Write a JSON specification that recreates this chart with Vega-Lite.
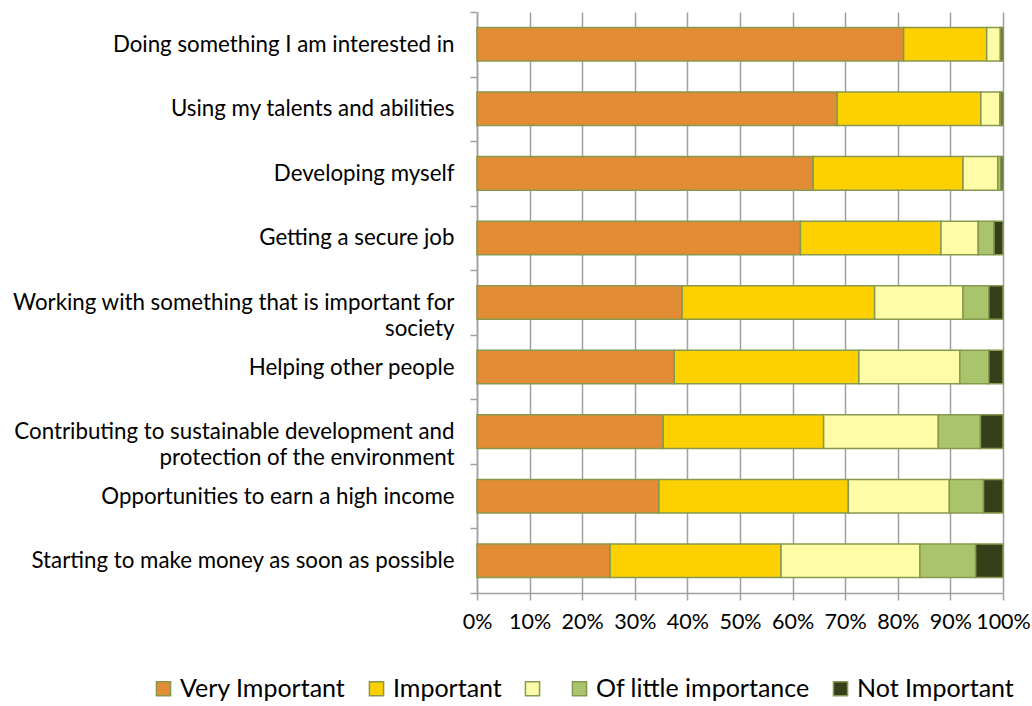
{
  "$schema": "https://vega.github.io/schema/vega-lite/v6.json",
  "width": 526,
  "height": 581,
  "autosize": {"type": "none"},
  "padding": {"left": 477, "top": 12, "right": 29, "bottom": 113},
  "background": "white",
  "config": {
    "view": {"stroke": null},
    "font": "Lato"
  },
  "data": {
    "values": [
      {"item": "Doing something I am interested in", "level": "Very Important", "rank": 1, "value": 81.1},
      {"item": "Doing something I am interested in", "level": "Important", "rank": 2, "value": 15.8},
      {"item": "Doing something I am interested in", "level": "\u00a0\u00a0\u00a0", "rank": 3, "value": 2.6},
      {"item": "Doing something I am interested in", "level": "Of little importance", "rank": 4, "value": 0.1},
      {"item": "Doing something I am interested in", "level": "Not Important", "rank": 5, "value": 0.4},
      {"item": "Using my talents and abilities", "level": "Very Important", "rank": 1, "value": 68.5},
      {"item": "Using my talents and abilities", "level": "Important", "rank": 2, "value": 27.3},
      {"item": "Using my talents and abilities", "level": "\u00a0\u00a0\u00a0", "rank": 3, "value": 3.6},
      {"item": "Using my talents and abilities", "level": "Of little importance", "rank": 4, "value": 0.2},
      {"item": "Using my talents and abilities", "level": "Not Important", "rank": 5, "value": 0.4},
      {"item": "Developing myself", "level": "Very Important", "rank": 1, "value": 63.9},
      {"item": "Developing myself", "level": "Important", "rank": 2, "value": 28.5},
      {"item": "Developing myself", "level": "\u00a0\u00a0\u00a0", "rank": 3, "value": 6.6},
      {"item": "Developing myself", "level": "Of little importance", "rank": 4, "value": 0.6},
      {"item": "Developing myself", "level": "Not Important", "rank": 5, "value": 0.4},
      {"item": "Getting a secure job", "level": "Very Important", "rank": 1, "value": 61.5},
      {"item": "Getting a secure job", "level": "Important", "rank": 2, "value": 26.7},
      {"item": "Getting a secure job", "level": "\u00a0\u00a0\u00a0", "rank": 3, "value": 7.1},
      {"item": "Getting a secure job", "level": "Of little importance", "rank": 4, "value": 3.0},
      {"item": "Getting a secure job", "level": "Not Important", "rank": 5, "value": 1.7},
      {"item": "Working with something that is important for society", "level": "Very Important", "rank": 1, "value": 39.0},
      {"item": "Working with something that is important for society", "level": "Important", "rank": 2, "value": 36.6},
      {"item": "Working with something that is important for society", "level": "\u00a0\u00a0\u00a0", "rank": 3, "value": 16.8},
      {"item": "Working with something that is important for society", "level": "Of little importance", "rank": 4, "value": 4.9},
      {"item": "Working with something that is important for society", "level": "Not Important", "rank": 5, "value": 2.7},
      {"item": "Helping other people", "level": "Very Important", "rank": 1, "value": 37.5},
      {"item": "Helping other people", "level": "Important", "rank": 2, "value": 35.1},
      {"item": "Helping other people", "level": "\u00a0\u00a0\u00a0", "rank": 3, "value": 19.2},
      {"item": "Helping other people", "level": "Of little importance", "rank": 4, "value": 5.5},
      {"item": "Helping other people", "level": "Not Important", "rank": 5, "value": 2.7},
      {"item": "Contributing to sustainable development and protection of the environment", "level": "Very Important", "rank": 1, "value": 35.4},
      {"item": "Contributing to sustainable development and protection of the environment", "level": "Important", "rank": 2, "value": 30.5},
      {"item": "Contributing to sustainable development and protection of the environment", "level": "\u00a0\u00a0\u00a0", "rank": 3, "value": 21.8},
      {"item": "Contributing to sustainable development and protection of the environment", "level": "Of little importance", "rank": 4, "value": 8.0},
      {"item": "Contributing to sustainable development and protection of the environment", "level": "Not Important", "rank": 5, "value": 4.3},
      {"item": "Opportunities to earn a high income", "level": "Very Important", "rank": 1, "value": 34.6},
      {"item": "Opportunities to earn a high income", "level": "Important", "rank": 2, "value": 36.0},
      {"item": "Opportunities to earn a high income", "level": "\u00a0\u00a0\u00a0", "rank": 3, "value": 19.2},
      {"item": "Opportunities to earn a high income", "level": "Of little importance", "rank": 4, "value": 6.5},
      {"item": "Opportunities to earn a high income", "level": "Not Important", "rank": 5, "value": 3.7},
      {"item": "Starting to make money as soon as possible", "level": "Very Important", "rank": 1, "value": 25.3},
      {"item": "Starting to make money as soon as possible", "level": "Important", "rank": 2, "value": 32.5},
      {"item": "Starting to make money as soon as possible", "level": "\u00a0\u00a0\u00a0", "rank": 3, "value": 26.4},
      {"item": "Starting to make money as soon as possible", "level": "Of little importance", "rank": 4, "value": 10.6},
      {"item": "Starting to make money as soon as possible", "level": "Not Important", "rank": 5, "value": 5.2}
    ]
  },
  "mark": {"type": "bar", "stroke": "#86994E", "strokeWidth": 1.5, "height": {"band": 0.52}},
  "encoding": {
    "y": {
      "field": "item",
      "type": "nominal",
      "sort": null,
      "scale": {"paddingInner": 0, "paddingOuter": 0},
      "axis": {
        "title": null,
        "domainColor": "#A0A0A0",
        "domainWidth": 1.5,
        "tickColor": "#A0A0A0",
        "tickWidth": 1.5,
        "tickSize": 7,
        "tickBand": "extent",
        "labelFontSize": 22.3,
        "labelColor": "#000000",
        "labelPadding": 16,
        "labelLimit": 500,
        "labelLineHeight": 26,
        "labelExpr": "datum.label == 'Working with something that is important for society' ? ['Working with something that is important for', 'society'] : datum.label == 'Contributing to sustainable development and protection of the environment' ? ['Contributing to sustainable development and', 'protection of the environment'] : datum.label"
      }
    },
    "x": {
      "field": "value",
      "type": "quantitative",
      "stack": "zero",
      "scale": {"domain": [0, 100], "nice": false},
      "axis": {
        "title": null,
        "values": [0, 10, 20, 30, 40, 50, 60, 70, 80, 90, 100],
        "labelExpr": "datum.value + '%'",
        "grid": true,
        "gridColor": "#A0A0A0",
        "gridWidth": 1.5,
        "domainColor": "#A0A0A0",
        "domainWidth": 1.5,
        "tickColor": "#A0A0A0",
        "tickWidth": 1.5,
        "tickSize": 7,
        "labelFontSize": 21.5,
        "labelColor": "#000000",
        "labelPadding": 11,
        "labelFlush": false
      }
    },
    "order": {"field": "rank", "type": "quantitative", "sort": "ascending"},
    "color": {
      "field": "level",
      "type": "nominal",
      "sort": ["Very Important", "Important", "\u00a0\u00a0\u00a0", "Of little importance", "Not Important"],
      "scale": {
        "domain": ["Very Important", "Important", "\u00a0\u00a0\u00a0", "Of little importance", "Not Important"],
        "range": ["#E28C35", "#FDD100", "#FFFCA8", "#A9C46B", "#353F1A"]
      },
      "legend": {
        "title": null,
        "orient": "none",
        "direction": "horizontal",
        "legendX": -326,
        "legendY": 664,
        "symbolType": "square",
        "symbolSize": 200,
        "symbolStrokeColor": "#86994E",
        "symbolStrokeWidth": 1.5,
        "symbolOpacity": 1,
        "labelFontSize": 25,
        "labelColor": "#000000",
        "labelOffset": 4,
        "columnPadding": 18,
        "labelLimit": 400
      }
    }
  }
}
